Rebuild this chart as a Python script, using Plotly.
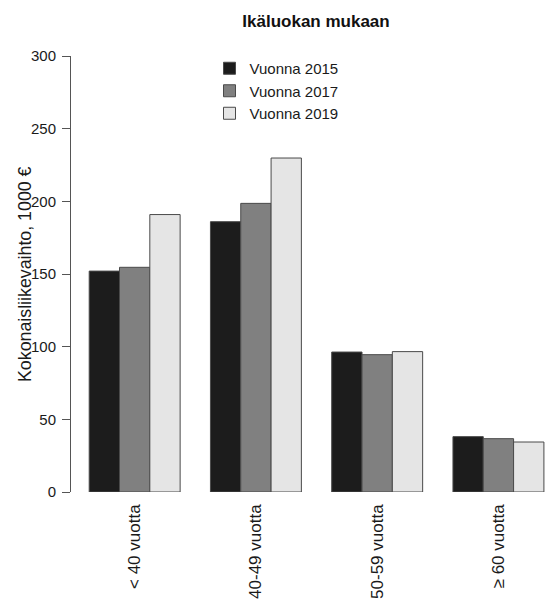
import plotly.graph_objects as go

categories = ["< 40 vuotta", "40-49 vuotta", "50-59 vuotta", "≥ 60 vuotta"]
series_names = ["Vuonna 2015", "Vuonna 2017", "Vuonna 2019"]
v2015 = [152, 186, 96.3, 38.1]
v2017 = [154.6, 198.6, 94.5, 36.7]
v2019 = [190.9, 229.8, 96.6, 34.4]
y_ticks = [0, 50, 100, 150, 200, 250, 300]

colors = ["#1c1c1c", "#808080", "#e5e5e5"]
FONT = "Liberation Sans, Arial, Helvetica, sans-serif"

fig = go.Figure()
for name, vals, col in zip(series_names, [v2015, v2017, v2019], colors):
    fig.add_trace(go.Bar(
        x=categories, y=vals, name=name,
        marker=dict(color=col, line=dict(color="#4a4a4a", width=1)),
    ))

W, H = 545, 600
L, R, T, B = 71, 0, 56, 108
fig.update_layout(
    width=W, height=H,
    margin=dict(l=L, r=R, t=T, b=B, pad=0, autoexpand=False),
    paper_bgcolor="white", plot_bgcolor="white",
    barmode="group", bargap=0.25, bargroupgap=0,
    font=dict(family=FONT, size=15, color="#1a1a1a"),
    title=dict(text="<b>Ikäluokan mukaan</b>", x=316 / W, xref="container", xanchor="center",
               y=1 - 21 / H, yref="container", yanchor="middle",
               font=dict(size=17, family=FONT, color="#111")),
    showlegend=True,
    legend=dict(x=(209.5 - L) / (W - L), y=1 - (91 - T) / (H - T - B), xanchor="left", yanchor="middle",
                bgcolor="rgba(0,0,0,0)", font=dict(size=15, family=FONT),
                tracegroupgap=0, itemwidth=30),
    xaxis=dict(range=[-0.525, 3.384], showline=False, ticks="", showgrid=False,
               tickangle=-90, tickfont=dict(size=17), zeroline=False, ticklabelstandoff=8),
    yaxis=dict(range=[0, 300], tickvals=y_ticks, showgrid=False, zeroline=False,
               showline=True, linecolor="#555", linewidth=1,
               ticks="outside", ticklen=8, tickcolor="#555", tickwidth=1,
               tickfont=dict(size=15), ticklabelstandoff=3),
    annotations=[dict(text="Kokonaisliikevaihto, 1000 €", textangle=-90,
                      xref="paper", yref="paper", x=(25 - L) / (W - L), y=0.5,
                      xanchor="center", yanchor="middle", showarrow=False,
                      font=dict(size=17.8, family=FONT, color="#1a1a1a"))],
)

fig.write_html("out.html", config={"displayModeBar": False},
               post_script="document.body.style.margin='0';document.body.style.overflow='hidden';")
